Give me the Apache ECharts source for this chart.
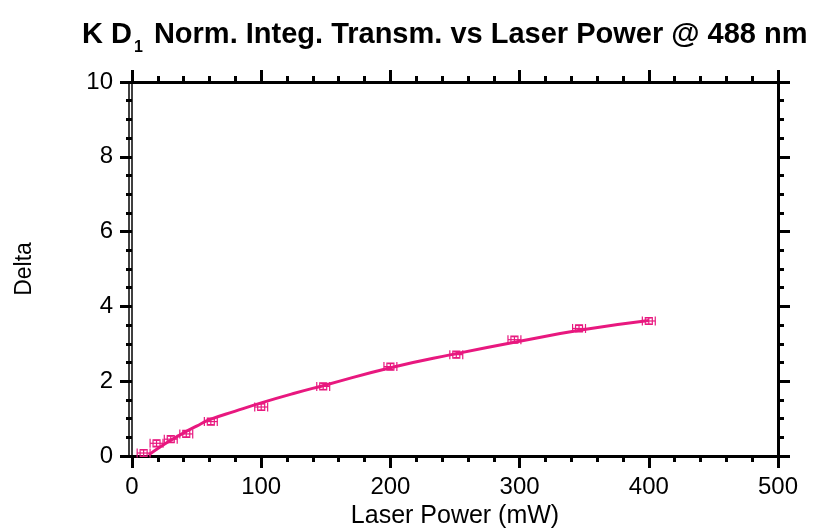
<!DOCTYPE html>
<html>
<head>
<meta charset="utf-8">
<script src="https://cdn.jsdelivr.net/npm/echarts@6/dist/echarts.min.js"></script>
<style>
  html, body { margin: 0; padding: 0; background: #fff; }
  #chart { width: 814px; height: 529px; }
</style>
</head>
<body>
<div id="chart"></div>
<script>
// measured points (laser power in mW, delta) with error bars
const powerX   = [9, 19, 30, 42, 61, 100, 148, 200, 251, 296, 346, 400];
const delta    = [0.08, 0.34, 0.45, 0.59, 0.92, 1.31, 1.86, 2.39, 2.71, 3.11, 3.41, 3.61];
const powerErr = [5, 5, 5, 5, 5, 5, 5, 5, 5, 5, 5, 5];
const deltaErr = [0.08, 0.08, 0.08, 0.08, 0.08, 0.08, 0.08, 0.08, 0.08, 0.08, 0.08, 0.08];

// fit curve
const fitX = [13, 20, 30, 40, 50, 60, 80, 100, 125, 150, 200, 250, 300, 350, 400];
const fitY = [0.03, 0.2, 0.42, 0.62, 0.8, 0.97, 1.2, 1.42, 1.67, 1.9, 2.36, 2.73, 3.07, 3.38, 3.62];

const xTicks = [0, 100, 200, 300, 400, 500];
const yTicks = [0, 2, 4, 6, 8, 10];

const pink = '#e8187f';
const plain = "'Liberation Sans', Arial, sans-serif";

const chart = echarts.init(document.getElementById('chart'));

// shared frame axis styles
const line = { show: true, onZero: false, lineStyle: { color: '#000', width: 3 } };
const tick = { show: true, inside: false, length: 12, lineStyle: { color: '#000', width: 3 } };
const minor = (n) => ({ show: true, splitNumber: n, length: 6, lineStyle: { color: '#000', width: 3 } });

function errorBars(params, api) {
  const x = api.value(0), y = api.value(1), ex = api.value(2), ey = api.value(3);
  const c = api.coord([x, y]);
  const l = api.coord([x - ex, y]);
  const r = api.coord([x + ex, y]);
  const t = api.coord([x, y + ey]);
  const b = api.coord([x, y - ey]);
  const st = { stroke: pink, lineWidth: 1.2, fill: null };
  const seg = (x1, y1, x2, y2) => ({ type: 'line', shape: { x1, y1, x2, y2 }, style: st });
  return {
    type: 'group',
    children: [
      seg(l[0], l[1], r[0], r[1]),
      seg(l[0], l[1] - 4.5, l[0], l[1] + 4.5),
      seg(r[0], r[1] - 4.5, r[0], r[1] + 4.5),
      seg(t[0], t[1], b[0], b[1]),
      seg(t[0] - 3, t[1], t[0] + 3, t[1]),
      seg(b[0] - 3, b[1], b[0] + 3, b[1]),
      { type: 'rect', shape: { x: c[0] - 3.5, y: c[1] - 3.5, width: 7, height: 7 }, style: st }
    ]
  };
}

const option = {
  animation: false,
  backgroundColor: '#fff',
  title: {
    left: 77,
    top: 9,
    text: '{a|K D}{s|1}{a| Norm. Integ. Transm. vs Laser Power @ 488 nm}',
    textStyle: {
      rich: {
        a: { fontFamily: plain, fontWeight: 'bold', fontSize: 29, color: '#000' },
        s: { fontFamily: plain, fontWeight: 'bold', fontSize: 16, color: '#000', padding: [26, 3, 0, 2] }
      }
    }
  },
  grid: { left: 132, top: 82, width: 646, height: 374, outerBoundsMode: 'none' },
  xAxis: [
    {
      type: 'value', position: 'bottom', min: 0, max: 500, interval: 100,
      axisLine: line, axisTick: tick, minorTick: minor(5),
      splitLine: { show: false },
      axisLabel: {
        margin: 19, fontFamily: plain, fontSize: 24, color: '#000',
        formatter: (v) => xTicks.includes(v) ? String(v) : ''
      },
      name: 'Laser Power (mW)', nameLocation: 'middle', nameGap: 42,
      nameTextStyle: { fontFamily: plain, fontSize: 25, color: '#000' }
    },
    {
      type: 'value', position: 'top', min: 0, max: 500, interval: 100,
      axisLine: line, axisTick: tick, minorTick: minor(5),
      splitLine: { show: false }, axisLabel: { show: false }
    }
  ],
  yAxis: [
    {
      type: 'value', position: 'left', min: 0, max: 10, interval: 2,
      axisLine: { show: true, onZero: false, lineStyle: { color: '#000', width: 1.5 } },
      axisTick: tick, minorTick: minor(4),
      splitLine: { show: false },
      axisLabel: {
        margin: 19, fontFamily: plain, fontSize: 24, color: '#000',
        formatter: (v) => yTicks.includes(v) ? String(v) : ''
      },
      name: 'Delta', nameLocation: 'middle', nameGap: 96, nameRotate: 90,
      nameTextStyle: { fontFamily: plain, fontSize: 23, color: '#000' }
    },
    {
      type: 'value', position: 'right', min: 0, max: 10, interval: 2,
      axisLine: line, axisTick: tick, minorTick: minor(4),
      splitLine: { show: false }, axisLabel: { show: false }
    },
    {
      // second thin line of the double left border
      type: 'value', position: 'left', offset: 3, min: 0, max: 10, interval: 2,
      axisLine: { show: true, onZero: false, lineStyle: { color: '#000', width: 1.5 } },
      axisTick: { show: false }, splitLine: { show: false }, axisLabel: { show: false }
    }
  ],
  series: [
    {
      type: 'line', smooth: true, showSymbol: false,
      data: fitX.map((x, i) => [x, fitY[i]]),
      lineStyle: { color: pink, width: 3 }, z: 3
    },
    {
      type: 'custom',
      renderItem: errorBars,
      data: powerX.map((x, i) => [x, delta[i], powerErr[i], deltaErr[i]]),
      z: 4
    }
  ]
};

chart.setOption(option);
</script>
</body>
</html>
